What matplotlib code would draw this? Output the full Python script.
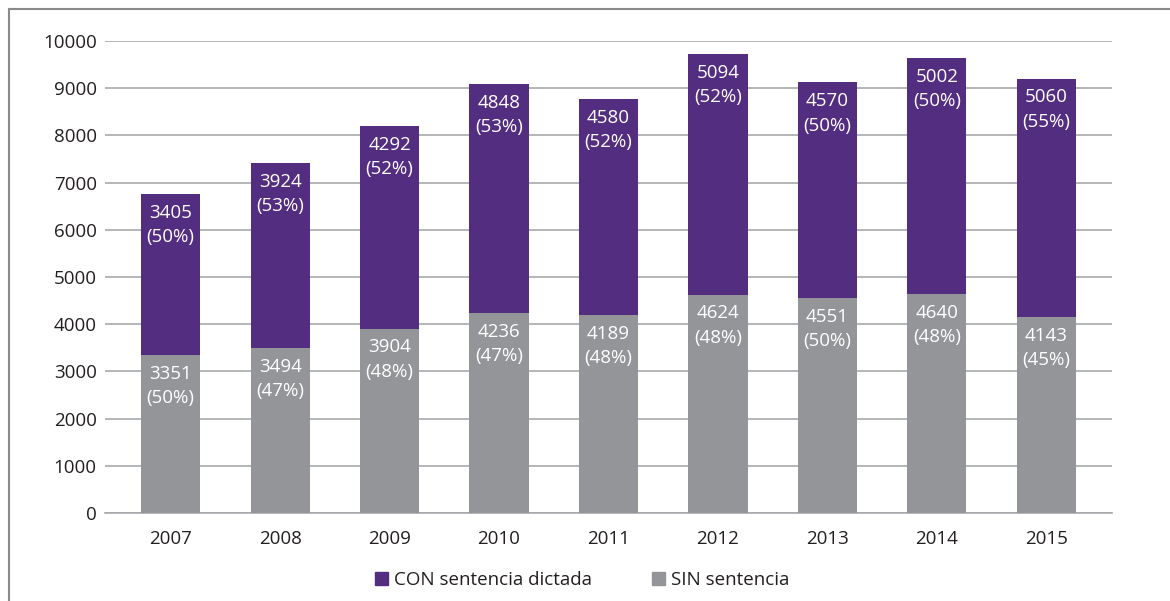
import matplotlib.pyplot as plt
import matplotlib.patches as mpatches
from matplotlib.lines import Line2D

years = ["2007", "2008", "2009", "2010", "2011", "2012", "2013", "2014", "2015"]
sin_sentencia = [3351, 3494, 3904, 4236, 4189, 4624, 4551, 4640, 4143]
sin_pct = [50, 47, 48, 47, 48, 48, 50, 48, 45]
con_sentencia = [3405, 3924, 4292, 4848, 4580, 5094, 4570, 5002, 5060]
con_pct = [50, 53, 52, 53, 52, 52, 50, 50, 55]

PURPLE = "#522d80"
GRAY = "#939598"
TEXT = "#231f20"
FS = 13.5

plt.rcParams["font.family"] = ["Open Sans", "DejaVu Sans"]

fig = plt.figure(figsize=(11.7, 6.01), dpi=100)
ax = fig.add_axes([105 / 1170, 1 - 513 / 601, 1007 / 1170, 472 / 601])

x = list(range(len(years)))
width = 0.54
ax.bar(x, sin_sentencia, width, color=GRAY, zorder=3)
ax.bar(x, con_sentencia, width, bottom=sin_sentencia, color=PURPLE, zorder=3)

# value labels at top of each segment
for i in x:
    top_sin = sin_sentencia[i]
    top_con = sin_sentencia[i] + con_sentencia[i]
    ax.annotate(f"{sin_sentencia[i]}\n({sin_pct[i]}%)", xy=(i, top_sin),
                xytext=(0, -7), textcoords="offset points", ha="center", va="top",
                color="white", fontsize=FS, linespacing=1.45, zorder=4)
    ax.annotate(f"{con_sentencia[i]}\n({con_pct[i]}%)", xy=(i, top_con),
                xytext=(0, -7), textcoords="offset points", ha="center", va="top",
                color="white", fontsize=FS, linespacing=1.45, zorder=4)

ax.set_xlim(-0.6, 8.6)
ax.set_ylim(0, 10000)
ax.set_yticks(range(0, 10001, 1000))
ax.set_xticks(x)
ax.set_xticklabels(years)
ax.yaxis.grid(True, color="#a7a9ac", linewidth=1.2, zorder=0)
for s in ["top", "right", "left"]:
    ax.spines[s].set_visible(False)
ax.spines["bottom"].set_color("#a7a9ac")
ax.spines["bottom"].set_linewidth(1.2)
ax.tick_params(axis="both", length=0, labelsize=FS, colors=TEXT)
ax.tick_params(axis="y", pad=6)
ax.tick_params(axis="x", pad=12)

# figure frame (left and top)
fig.add_artist(Line2D([9 / 1170, 9 / 1170], [0, 1 - 9 / 601], transform=fig.transFigure,
                      color="#8a8a8a", linewidth=1.5))
fig.add_artist(Line2D([9 / 1170, 1], [1 - 9 / 601, 1 - 9 / 601], transform=fig.transFigure,
                      color="#8a8a8a", linewidth=1.5))

handles = [mpatches.Patch(color=PURPLE, label="CON sentencia dictada"),
           mpatches.Patch(color=GRAY, label="SIN sentencia")]
fig.legend(handles=handles, loc="center", bbox_to_anchor=(582 / 1170, 1 - 580 / 601),
           ncol=2, frameon=False, fontsize=FS, handlelength=0.7, handleheight=0.7,
           handletextpad=0.3, columnspacing=3.2, labelcolor=TEXT)

fig.savefig("out.png", dpi=100)
